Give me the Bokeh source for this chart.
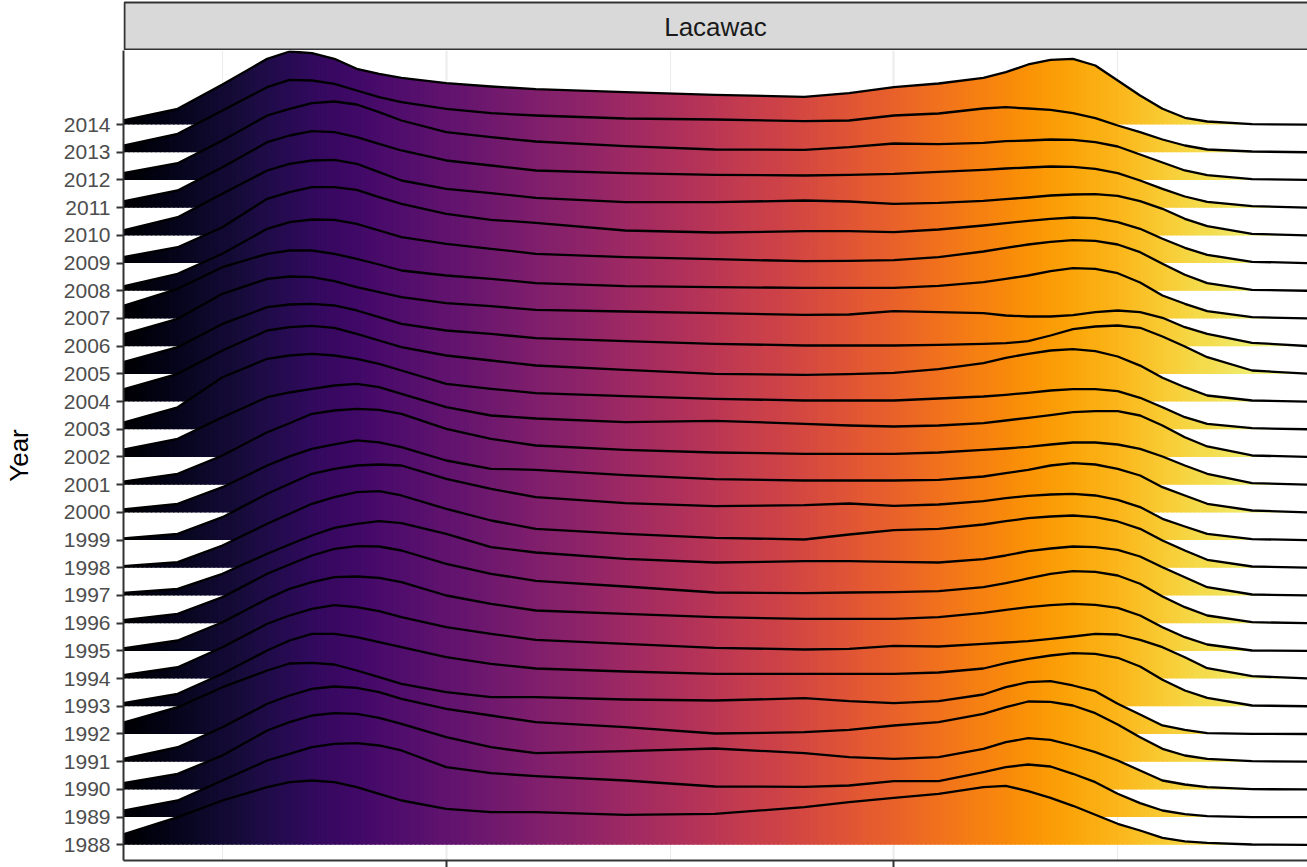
import math
from bokeh.plotting import figure
from bokeh.layouts import column
from bokeh.models import FixedTicker, Range1d
from bokeh.palettes import Inferno256
from bokeh.core.properties import value
from bokeh.embed import file_html
from bokeh.resources import INLINE

# ---------------- data ----------------
lake = "Lacawac"
years = list(range(1988, 2015))
# x positions (water temperature, deg C) at which the ridge heights were read
temperature = [2.7, 4, 5, 6, 6.5, 7, 7.5, 8, 8.5, 9, 10, 11, 12, 14, 16, 18, 19, 20,
               21, 22, 22.5, 23, 23.5, 24, 24.5, 25, 25.5, 26, 26.5, 27, 28, 29.3]
# relative density (arbitrary units) per year at those temperatures
d1988 = [9.3, 27.6, 44.3, 57.6, 62.6, 64.3, 62.6, 57.6, 51.0, 44.3, 36.0, 32.6, 32.6, 29.9, 30.9, 37.6, 42.6, 46.9, 51.0, 57.6, 59.0, 53.6, 47.0, 39.0, 30.0, 21.0, 14.3, 7.0, 3.5, 2.0, 0.3, 0.0]
d1989 = [5.9, 16.6, 36.6, 56.6, 63.3, 69.9, 73.3, 73.9, 71.6, 66.6, 49.9, 44.0, 41.0, 36.6, 30.6, 30.3, 31.6, 35.9, 35.9, 44.9, 49.9, 52.6, 50.6, 43.3, 34.9, 23.3, 14.0, 6.6, 3.0, 1.0, 0.0, 0.0]
d1990 = [5.6, 15.6, 33.9, 58.9, 67.2, 73.9, 76.2, 75.6, 71.6, 65.6, 52.2, 42.2, 36.2, 38.2, 40.9, 36.2, 32.2, 30.6, 32.2, 40.6, 47.2, 51.2, 49.6, 43.9, 37.2, 28.9, 18.9, 8.9, 4.9, 2.2, 0.2, 0.0]
d1991 = [1.9, 14.5, 34.5, 57.9, 66.2, 72.9, 75.2, 73.9, 69.5, 62.9, 52.9, 46.2, 39.5, 34.5, 28.2, 29.5, 31.9, 36.2, 39.5, 47.8, 54.5, 60.2, 59.9, 56.2, 48.5, 37.2, 24.5, 12.9, 6.2, 2.9, 0.5, 0.0]
d1992 = [10.2, 26.8, 46.8, 63.5, 70.5, 71.2, 69.5, 63.5, 56.8, 50.2, 41.8, 36.8, 36.8, 34.5, 33.5, 35.8, 32.8, 30.8, 32.8, 39.5, 46.8, 51.8, 52.8, 48.5, 42.8, 30.2, 19.5, 8.5, 4.2, 0.8, 0.2, 0.0]
d1993 = [2.5, 12.5, 32.5, 55.8, 65.8, 72.5, 72.5, 69.1, 64.1, 59.1, 49.1, 42.5, 37.8, 34.8, 32.5, 32.5, 32.5, 32.5, 33.8, 37.8, 43.1, 47.5, 50.8, 53.1, 52.5, 48.5, 39.8, 26.5, 15.8, 8.5, 0.8, 0.0]
d1994 = [2.8, 11.4, 31.4, 54.8, 63.1, 69.8, 73.4, 71.4, 67.4, 61.4, 51.4, 44.8, 38.8, 34.8, 30.8, 29.1, 29.8, 32.8, 32.1, 34.8, 36.1, 37.4, 39.8, 42.1, 44.8, 44.1, 38.8, 31.4, 21.4, 10.4, 2.4, 0.0]
d1995 = [2.1, 10.4, 28.7, 52.0, 62.1, 68.7, 73.7, 74.4, 73.1, 68.7, 55.4, 47.1, 40.4, 37.1, 33.7, 32.1, 32.1, 32.1, 33.7, 38.0, 41.1, 43.7, 45.7, 47.1, 46.1, 43.1, 35.4, 23.7, 13.7, 6.4, 0.4, 0.0]
d1996 = [2.7, 9.4, 26.0, 49.4, 58.7, 67.7, 74.4, 77.0, 76.7, 72.7, 59.4, 49.4, 42.4, 36.7, 30.7, 30.0, 30.7, 31.0, 32.0, 36.0, 40.0, 44.7, 49.4, 52.0, 51.4, 47.7, 39.4, 26.7, 16.0, 7.7, 1.0, 0.0]
d1997 = [2.3, 6.7, 21.7, 41.7, 51.0, 60.0, 67.7, 71.7, 74.3, 72.3, 61.7, 48.3, 43.0, 36.7, 33.0, 34.3, 34.3, 33.7, 33.0, 36.3, 40.0, 44.3, 47.0, 49.0, 48.3, 45.7, 39.0, 28.3, 18.3, 8.3, 1.0, 0.0]
d1998 = [1.3, 5.6, 22.3, 44.0, 54.0, 64.0, 70.6, 75.6, 76.6, 72.3, 59.0, 47.3, 39.0, 34.0, 30.0, 28.3, 33.3, 37.6, 39.0, 43.3, 46.6, 49.6, 51.3, 52.3, 50.6, 46.3, 39.0, 27.3, 17.3, 8.0, 1.3, 0.0]
d1999 = [1.3, 6.3, 22.9, 46.3, 56.3, 66.3, 71.3, 74.6, 75.6, 74.6, 61.3, 51.3, 42.9, 36.9, 33.9, 34.9, 36.6, 34.3, 35.6, 38.9, 41.9, 44.3, 45.6, 46.3, 44.6, 40.3, 33.0, 21.3, 13.6, 6.3, 0.9, 0.0]
d2000 = [2.6, 8.6, 25.2, 46.9, 56.0, 63.6, 68.0, 72.0, 70.0, 65.2, 51.9, 43.6, 42.6, 37.2, 33.2, 31.9, 31.9, 31.9, 32.6, 35.9, 39.2, 42.6, 46.9, 49.2, 47.9, 43.6, 36.9, 25.2, 16.9, 8.6, 1.9, 0.0]
d2001 = [2.5, 10.9, 29.2, 52.5, 61.5, 70.9, 74.2, 75.9, 74.9, 70.9, 55.9, 45.9, 39.2, 34.9, 32.2, 30.9, 30.9, 30.9, 32.2, 34.9, 36.2, 37.9, 40.2, 42.2, 42.2, 40.2, 35.9, 28.2, 19.2, 10.9, 1.5, 0.0]
d2002 = [6.5, 18.2, 39.8, 59.8, 64.5, 68.2, 71.5, 73.2, 69.8, 63.2, 49.8, 41.5, 38.5, 34.8, 36.2, 33.2, 31.5, 30.5, 31.5, 33.8, 36.5, 39.2, 41.8, 44.8, 45.8, 45.8, 41.5, 31.5, 19.8, 10.5, 1.5, 0.0]
d2003 = [5.5, 22.0, 52.1, 70.5, 73.8, 75.5, 73.8, 70.5, 65.5, 58.8, 45.5, 40.5, 36.1, 33.1, 30.5, 28.8, 28.8, 28.8, 30.8, 32.8, 34.5, 36.5, 38.8, 40.1, 40.1, 38.1, 31.5, 22.1, 12.1, 5.5, 1.1, 0.0]
d2004 = [11.1, 27.8, 51.1, 71.1, 74.4, 75.8, 73.8, 67.8, 61.1, 54.4, 46.1, 41.1, 36.1, 31.8, 27.8, 26.8, 27.4, 28.8, 32.4, 38.4, 43.8, 47.8, 51.1, 52.4, 50.4, 45.1, 36.0, 23.8, 14.4, 6.1, 1.1, 0.0]
d2005 = [10.7, 26.7, 50.0, 66.7, 69.4, 70.0, 68.4, 63.4, 56.7, 50.0, 43.4, 40.0, 35.7, 32.7, 30.1, 28.4, 28.4, 28.4, 29.1, 30.1, 30.7, 32.7, 38.4, 44.7, 47.4, 48.4, 46.1, 37.4, 27.4, 16.7, 3.4, 0.0]
d2006 = [10.7, 27.4, 52.4, 67.4, 69.7, 69.0, 65.0, 59.0, 54.0, 49.0, 43.0, 40.0, 36.4, 34.7, 33.0, 31.4, 31.7, 35.0, 34.0, 33.0, 30.7, 29.7, 29.7, 31.0, 34.0, 35.7, 34.0, 28.4, 19.0, 12.4, 3.4, 0.0]
d2007 = [11.3, 29.7, 51.3, 64.7, 68.0, 68.0, 64.7, 59.7, 54.0, 48.0, 43.0, 39.7, 35.3, 32.3, 31.3, 30.7, 30.7, 30.7, 32.7, 36.3, 39.7, 43.0, 47.3, 50.3, 49.7, 45.3, 36.0, 23.0, 14.7, 7.3, 1.3, 0.0]
d2008 = [3.6, 17.0, 37.0, 62.0, 68.6, 71.3, 71.0, 67.0, 60.3, 53.6, 47.0, 42.0, 37.0, 33.6, 31.6, 29.6, 30.0, 30.6, 33.6, 39.3, 43.0, 46.3, 49.0, 50.6, 50.0, 46.3, 38.6, 27.0, 16.0, 7.6, 1.0, 0.0]
d2009 = [5.3, 15.9, 35.9, 64.3, 70.9, 75.9, 75.9, 73.3, 65.9, 59.3, 49.3, 43.3, 40.3, 32.6, 30.6, 31.9, 31.9, 30.9, 33.6, 37.6, 40.0, 42.3, 44.3, 45.6, 44.9, 40.9, 34.3, 24.3, 15.3, 8.3, 1.3, 0.0]
d2010 = [4.2, 18.2, 41.6, 64.9, 71.6, 74.9, 75.6, 71.6, 63.2, 54.9, 46.6, 42.2, 37.6, 33.2, 33.2, 34.9, 33.9, 31.6, 32.6, 34.6, 36.2, 37.9, 39.9, 40.9, 41.2, 39.6, 34.2, 26.6, 16.6, 9.2, 1.6, 0.0]
d2011 = [5.5, 17.2, 40.5, 65.5, 72.2, 76.5, 75.5, 70.5, 63.9, 57.2, 47.2, 42.2, 37.2, 34.5, 32.9, 32.2, 32.9, 33.9, 35.9, 37.9, 39.2, 40.2, 41.2, 40.9, 38.9, 34.5, 27.2, 18.9, 11.2, 5.9, 1.5, 0.0]
d2012 = [6.2, 16.8, 39.5, 64.5, 71.2, 76.8, 78.5, 75.5, 67.8, 59.5, 47.8, 42.8, 38.5, 33.8, 30.5, 30.2, 32.8, 36.5, 35.8, 37.2, 38.8, 39.5, 40.5, 40.2, 37.8, 33.5, 25.5, 17.5, 9.5, 4.8, 0.8, 0.0]
d2013 = [5.8, 18.5, 41.8, 65.1, 72.5, 71.8, 68.5, 61.8, 55.1, 50.1, 43.5, 39.1, 36.8, 33.8, 32.8, 31.1, 31.8, 36.8, 38.8, 43.8, 45.1, 43.8, 42.5, 39.1, 34.1, 26.8, 20.1, 12.8, 6.8, 2.8, 0.8, 0.0]
d2014 = [3.4, 15.8, 40.1, 65.8, 73.1, 71.4, 65.8, 55.8, 50.8, 46.8, 41.4, 38.1, 35.4, 32.4, 29.8, 27.8, 31.4, 37.4, 41.1, 46.8, 52.4, 60.1, 64.8, 65.8, 59.1, 44.1, 29.1, 15.8, 6.8, 3.1, 0.4, 0.0]

densities = [d1988, d1989, d1990, d1991, d1992, d1993, d1994, d1995, d1996,
             d1997, d1998, d1999, d2000, d2001, d2002, d2003, d2004, d2005,
             d2006, d2007, d2008, d2009, d2010, d2011, d2012, d2013, d2014]

x_ticks_major = [10, 20]
x_ticks_minor = [5, 15, 25]

# ---------------- layout / style ----------------
dmax = max(max(d) for d in densities)
ridge_scale = dmax / 27.7       # tallest ridge height, in rows (ggridges "scale")
x_lo, x_hi = temperature[0], temperature[-1]
X0, X1 = 2.79, 29.24
Y0, Y1 = 1987.433, 2016.675
GRAY20 = "#333333"
FONT = "Liberation Sans"
W = 1307
LEFT = 122
STRIP_H = 50

xr = Range1d(X0, X1)

# ---- facet strip (separate small figure above the panel) ----
s = figure(width=W, height=STRIP_H, output_backend="svg", toolbar_location=None,
           x_range=xr, y_range=Range1d(0, STRIP_H),
           x_axis_location=None, y_axis_location=None,
           min_border_left=LEFT, min_border_right=0, min_border_top=0,
           min_border_bottom=0)
s.outline_line_color = None
s.xgrid.grid_line_color = None
s.ygrid.grid_line_color = None
s.quad(left=X0 + 0.022, right=X1 + 2, bottom=1, top=STRIP_H - 2,
       fill_color="#D9D9D9", line_color=GRAY20, line_width=2)
s.text(x=[(X0 + X1) / 2], y=[STRIP_H - 26], text=[lake],
       text_font=value(FONT), text_font_size="26px",
       text_color="#1A1A1A", text_align="center", text_baseline="middle")

# ---- ridgeline panel ----
p = figure(width=W, height=867 - STRIP_H, output_backend="svg", toolbar_location=None,
           x_range=xr, y_range=Range1d(Y0, Y1),
           min_border_left=LEFT, min_border_right=0, min_border_top=0,
           min_border_bottom=0)
p.outline_line_color = None
p.background_fill_color = "white"
p.border_fill_color = "white"


def fill_color(x):
    f = (x - x_lo) / (x_hi - x_lo)
    return Inferno256[min(255, max(0, int(round(f * 255))))]


step = 0.1
n_pts = len(temperature)
# draw from the top ridge down so lower ridges overlap upper ones
for yr, dens in reversed(list(zip(years, densities))):
    dens = (list(dens) + [0.0] * n_pts)[:n_pts]
    h = [v / dmax * ridge_scale for v in dens]
    xs, ys, cs = [], [], []
    for i in range(n_pts - 1):
        xa, xb = temperature[i], temperature[i + 1]
        ha, hb = h[i], h[i + 1]
        slope = (hb - ha) / (xb - xa)
        n = max(1, math.ceil((xb - xa) / step - 1e-9))
        for j in range(n):
            x0 = xa + (xb - xa) * j / n
            x1 = xa + (xb - xa) * (j + 1) / n
            ov = 0.03
            xs.append([x0, x1 + ov, x1 + ov, x0])
            ys.append([yr, yr, yr + ha + slope * (x1 + ov - xa), yr + ha + slope * (x0 - xa)])
            cs.append(fill_color((x0 + x1) / 2))
    p.patches(xs, ys, fill_color=cs, line_color=None)
    p.line(temperature, [yr + v for v in h], line_color="black", line_width=2.3,
           line_join="round")

# grid
p.xaxis.ticker = FixedTicker(ticks=x_ticks_major, minor_ticks=x_ticks_minor)
p.xgrid.grid_line_color = "#EBEBEB"
p.xgrid.grid_line_width = 2
p.xgrid.minor_grid_line_color = "#EBEBEB"
p.xgrid.minor_grid_line_width = 1
p.ygrid.grid_line_color = None

# x axis (its labels fall outside the picture)
xa = p.xaxis[0]
xa.axis_line_color = GRAY20
xa.axis_line_width = 2
xa.major_tick_line_color = GRAY20
xa.major_tick_line_width = 2
xa.major_tick_out = 7
xa.major_tick_in = 0
xa.minor_tick_line_color = None
xa.major_label_text_font_size = "0px"
xa.major_label_text_color = None
xa.major_label_standoff = 0

# y axis
ya = p.yaxis[0]
ya.ticker = FixedTicker(ticks=years, minor_ticks=[])
ya.axis_line_color = GRAY20
ya.axis_line_width = 2
ya.major_tick_line_color = GRAY20
ya.major_tick_line_width = 2
ya.major_tick_out = 7
ya.major_tick_in = 0
ya.minor_tick_line_color = None
ya.major_label_text_font = FONT
ya.major_label_text_font_size = "21px"
ya.major_label_text_color = "#4D4D4D"
ya.major_label_standoff = 6
ya.axis_label = "Year"
ya.axis_label_text_font = FONT
ya.axis_label_text_font_size = "26px"
ya.axis_label_text_font_style = "normal"
ya.axis_label_text_color = "black"
ya.axis_label_standoff = 27

layout = column(s, p, spacing=0)
open("out.html", "w").write(file_html(layout, INLINE))
